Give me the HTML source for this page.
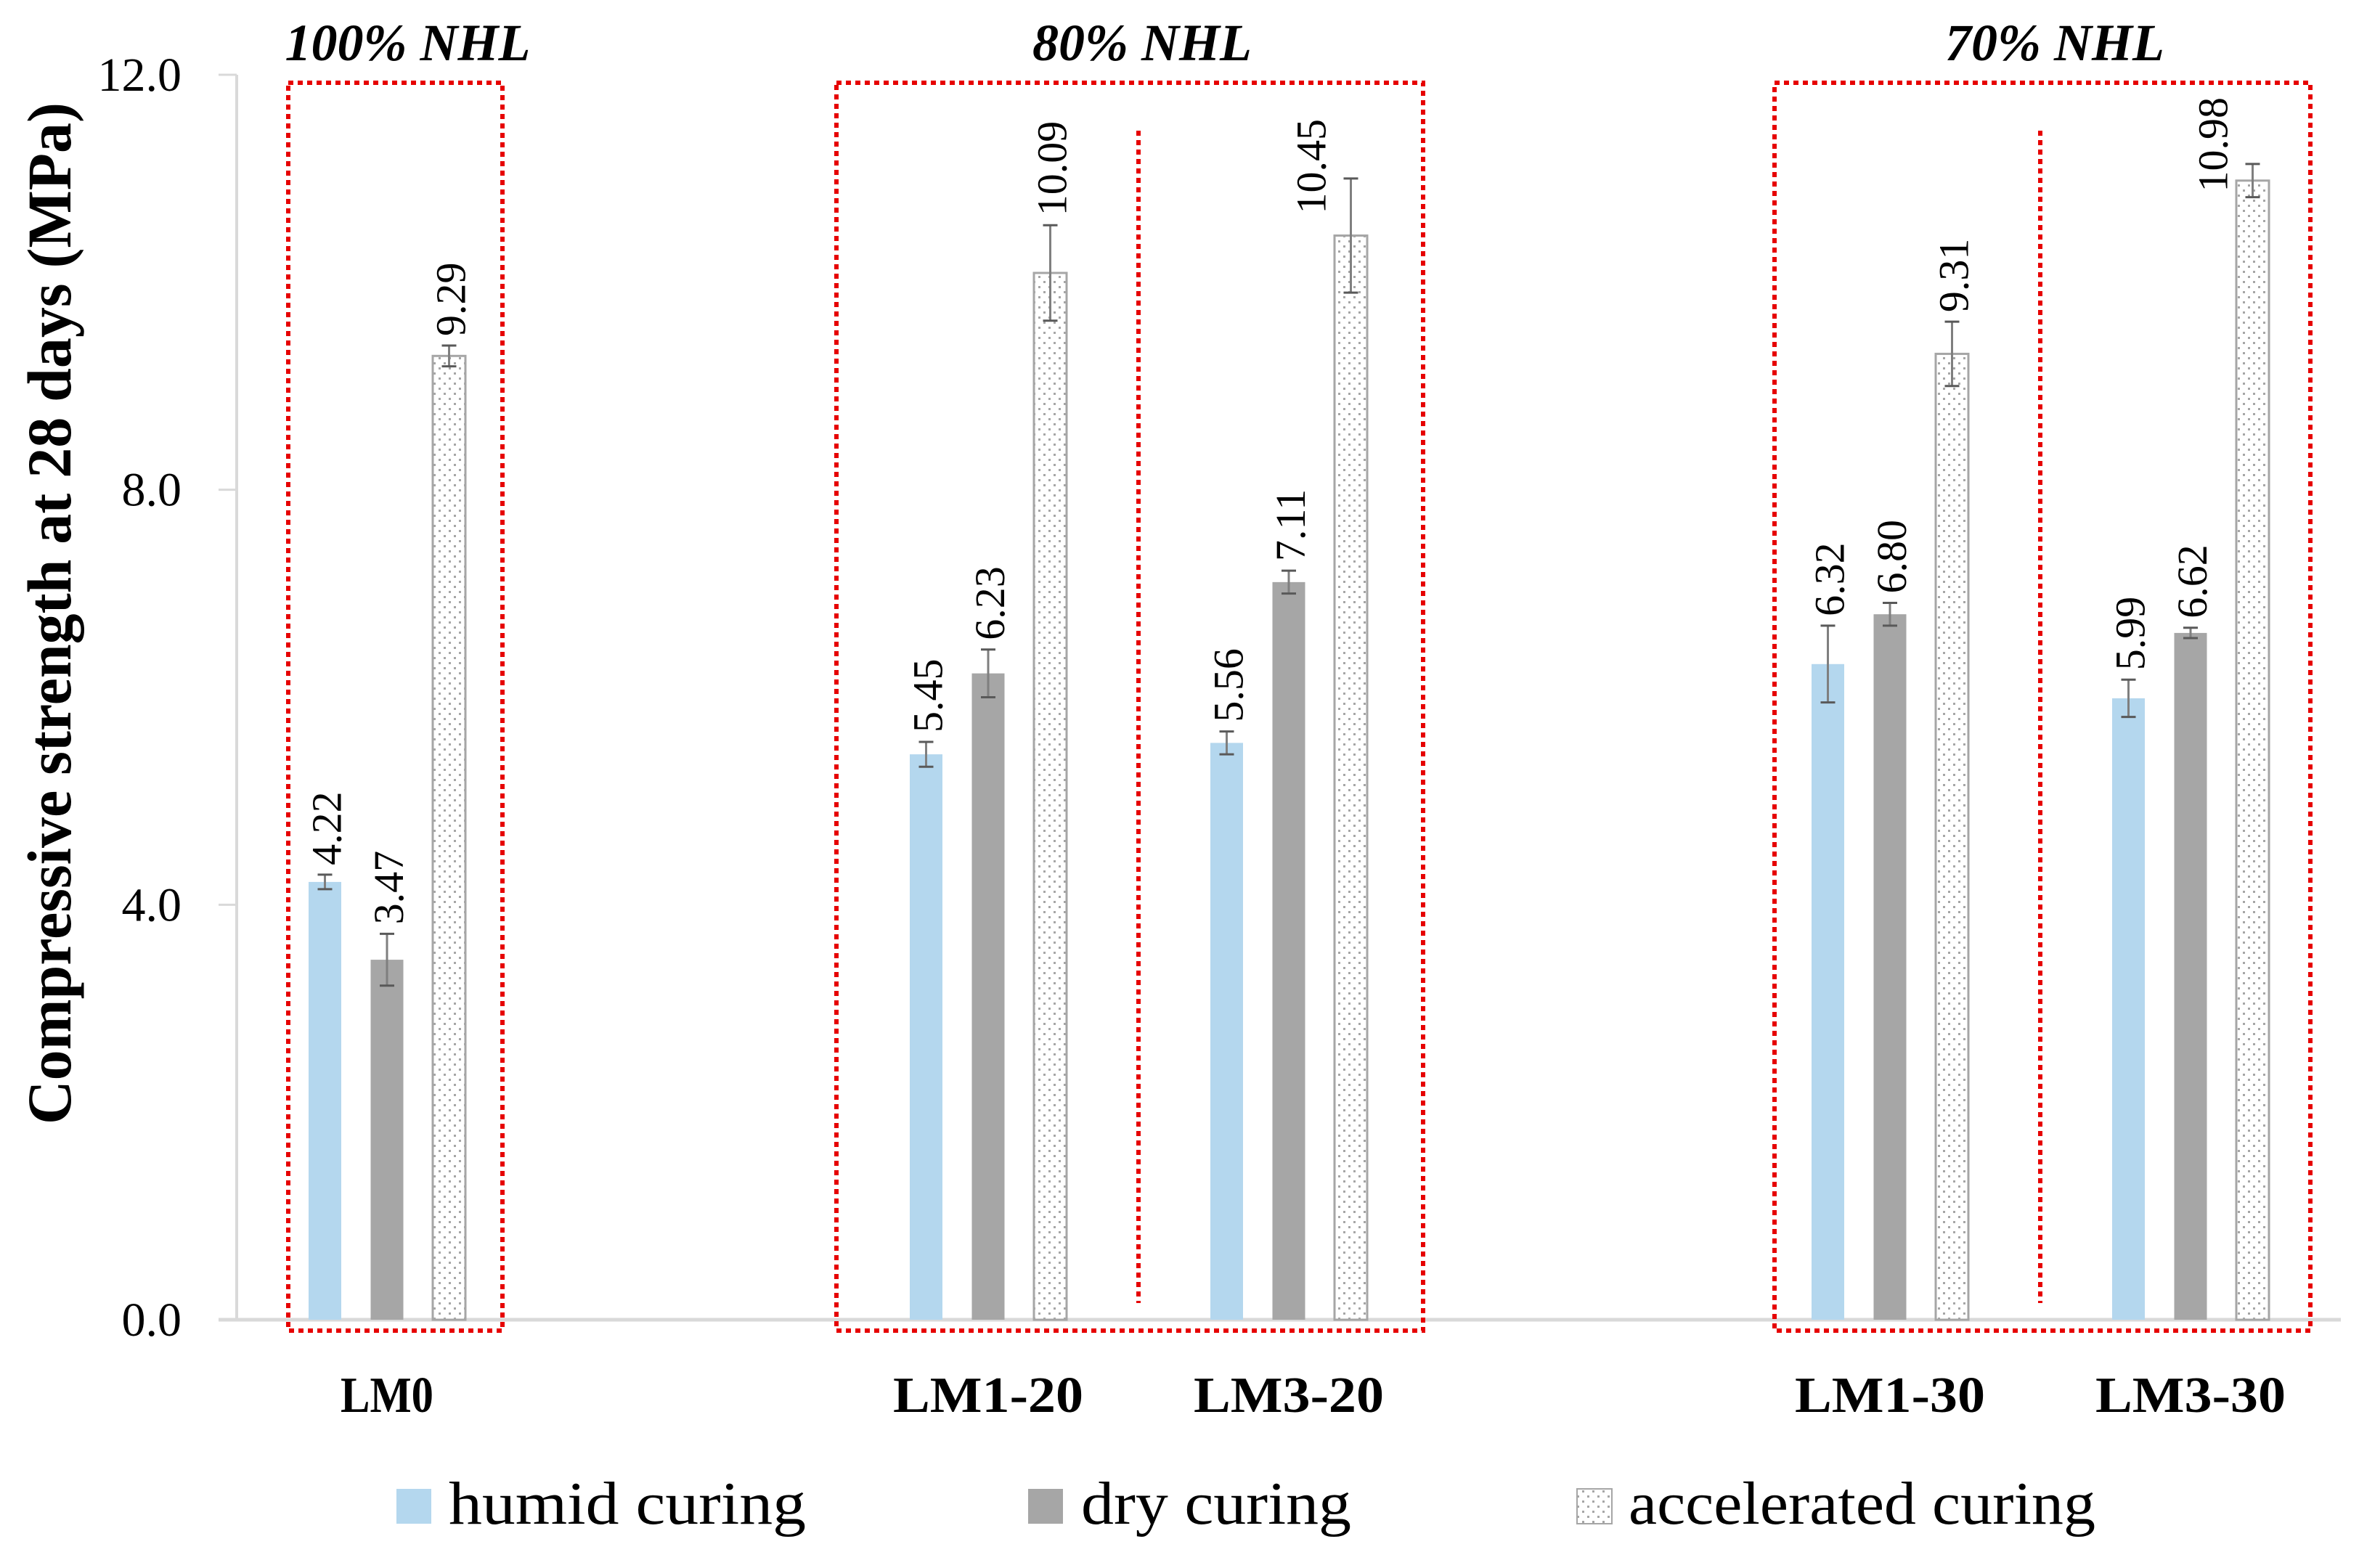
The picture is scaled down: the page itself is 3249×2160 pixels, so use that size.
<!DOCTYPE html>
<html><head><meta charset="utf-8">
<style>
html,body{margin:0;padding:0;background:#fff;}
svg{display:block;}
</style></head>
<body>
<svg id="chart" width="3249" height="2160" viewBox="0 0 3249 2160" xmlns="http://www.w3.org/2000/svg">
<defs>
<pattern id="dots" width="14" height="14" patternUnits="userSpaceOnUse">
<rect width="14" height="14" fill="#fff"/>
<rect x="2" y="2" width="3" height="3" fill="#a6a6a6"/>
<rect x="9" y="9" width="3" height="3" fill="#a6a6a6"/>
</pattern>
</defs>
<g id="plot"></g>
</svg>
<script>
const categories = ["LM0", "", "LM1-20", "LM3-20", "", "LM1-30", "LM3-30"];
const humid = [4.22, null, 5.45, 5.56, null, 6.32, 5.99];
const dry = [3.47, null, 6.23, 7.11, null, 6.80, 6.62];
const accel = [9.29, null, 10.09, 10.45, null, 9.31, 10.98];
const humidErr = [0.07, null, 0.12, 0.11, null, 0.37, 0.18];
const dryErr = [0.25, null, 0.23, 0.11, null, 0.11, 0.05];
const accelErr = [0.10, null, 0.46, 0.55, null, 0.31, 0.16];
const yTicks = [0, 4, 8, 12];
const yTickLabels = ["0.0", "4.0", "8.0", "12.0"];
const groupTitles = ["100% NHL", "80% NHL", "70% NHL"];
const groupStart = [0, 2, 5];
const groupEnd = [0, 3, 6];

const NS = "http://www.w3.org/2000/svg";
const g = document.getElementById('plot');
const X0 = 326, X1 = 3224, Y0 = 1818, Y12 = 103;
const slotW = (X1 - X0) / categories.length;
function yScale(v){ return Y0 - (v / 12) * (Y0 - Y12); }
function slotCenter(i){ return X0 + slotW * (i + 0.5); }
function mk(tag, attrs, parent){
  const e = document.createElementNS(NS, tag);
  for (const k in attrs) e.setAttribute(k, attrs[k]);
  (parent || g).appendChild(e);
  return e;
}
const serif = '"Liberation Serif", serif';

yTicks.forEach((t, i) => {
  const y = yScale(t);
  const tk = mk('line', {x1: 301, x2: X0, y1: y, y2: y, stroke: '#d9d9d9', 'stroke-width': 3});
  
  
  const lb = mk('text', {x: 250, y: y + 22, 'text-anchor': 'end', 'font-family': serif, 'font-size': 66, fill: '#000'});
  lb.textContent = yTickLabels[i];
  
  
});
const yAxis = mk('line', {x1: X0, x2: X0, y1: Y12, y2: Y0, stroke: '#d9d9d9', 'stroke-width': 4});


const xAxis = mk('line', {x1: 301, x2: X1, y1: Y0, y2: Y0, stroke: '#d9d9d9', 'stroke-width': 5});



const yt = mk('text', {x: 0, y: 0, transform: 'translate(97,845) rotate(-90)', 'text-anchor': 'middle', 'font-family': serif, 'font-weight': 'bold', 'font-size': 86, textLength: 1408, lengthAdjust: 'spacingAndGlyphs', fill: '#000'});
yt.textContent = 'Compressive strength at 28 days (MPa)';



const series = [
  {vals: humid, errs: humidErr, name: 'humid', fill: '#b4d7ee', stroke: 'none', off: -85.5},
  {vals: dry, errs: dryErr, name: 'dry', fill: '#a6a6a6', stroke: 'none', off: 0},
  {vals: accel, errs: accelErr, name: 'accelerated', fill: 'url(#dots)', stroke: '#a6a6a6', off: 85.5}
];
const bw = 45;
series.forEach(s => {
  s.vals.forEach((v, i) => {
    if (v === null) return;
    const cx = slotCenter(i) + s.off;
    const y = yScale(v);
    const r = mk('rect', {x: cx - bw/2, y: y, width: bw, height: Y0 - y, fill: s.fill});
    if (s.stroke !== 'none') { r.setAttribute('stroke', s.stroke); r.setAttribute('stroke-width', 3); }
    
    
    const e = s.errs[i];
    const yt2 = yScale(v + e), yb = yScale(v - e);
    const el = mk('path', {d: `M${cx},${yt2}V${yb}`, stroke: '#7f7f7f', 'stroke-width': 3, fill: 'none'});
    
    
    const ec = mk('path', {d: `M${cx-10},${yt2}H${cx+10}M${cx-10},${yb}H${cx+10}`, stroke: '#595959', 'stroke-width': 3, fill: 'none'});
    
    
    const t = mk('text', {x: 0, y: 0, 'font-family': serif, 'font-size': 58, fill: '#000'});
    t.textContent = v.toFixed(2);
    
    
    const len = t.getComputedTextLength() || 133;
    let bx = cx + 22, endY = yt2 - 13;
    if (endY - len < 150) {
      bx = cx - 35;
      endY = Math.max(y - 30, 134 + len);
    }
    t.setAttribute('transform', `translate(${bx},${endY}) rotate(-90)`);
  });
});

categories.forEach((c, i) => {
  if (!c) return;
  const t = mk('text', {x: slotCenter(i), y: 1945, 'text-anchor': 'middle', 'font-family': serif, 'font-weight': 'bold', 'font-size': 70, fill: '#000', textLength: c.length > 3 ? 262 : 128, lengthAdjust: 'spacingAndGlyphs'});
  t.textContent = c;
  
  
});

const boxX = [[397, 692], [1152, 1960], [2444, 3182]];
groupTitles.forEach((gt, k) => {
  const [a, b] = boxX[k];
  const bx = mk('rect', {x: a, y: 114, width: b - a, height: 1833 - 114, fill: 'none', stroke: '#e60000', 'stroke-width': 6, 'stroke-dasharray': '7 6'});
  
  
  const t = mk('text', {x: (a + b) / 2 + 17, y: 83, 'text-anchor': 'middle', 'font-family': serif, 'font-weight': 'bold', 'font-style': 'italic', 'font-size': 72, fill: '#000'});
  t.textContent = gt;
  
  
  if (groupEnd[k] > groupStart[k]) {
    const dx = (slotCenter(groupStart[k]) + slotCenter(groupEnd[k])) / 2;
    const d = mk('line', {x1: dx, x2: dx, y1: 180, y2: 1795, stroke: '#e60000', 'stroke-width': 6, 'stroke-dasharray': '7 6'});
    
    
  }
});

const legend = [
  {label: 'humid curing', fill: '#b4d7ee', stroke: 'none', sx: 546, tx: 618, tl: 492},
  {label: 'dry curing', fill: '#a6a6a6', stroke: 'none', sx: 1416, tx: 1489, tl: 372},
  {label: 'accelerated curing', fill: 'url(#dots)', stroke: '#a6a6a6', sx: 2172, tx: 2243, tl: 643}
];
legend.forEach(l => {
  const sq = mk('rect', {x: l.sx, y: 2051, width: 48, height: 48, fill: l.fill});
  if (l.stroke !== 'none') { sq.setAttribute('stroke', l.stroke); sq.setAttribute('stroke-width', 2); }
  
  
  const t = mk('text', {x: l.tx, y: 2099, 'font-family': serif, 'font-size': 84, fill: '#000', textLength: l.tl, lengthAdjust: 'spacingAndGlyphs'});
  t.textContent = l.label;
  
  
});
</script>
</body></html>
